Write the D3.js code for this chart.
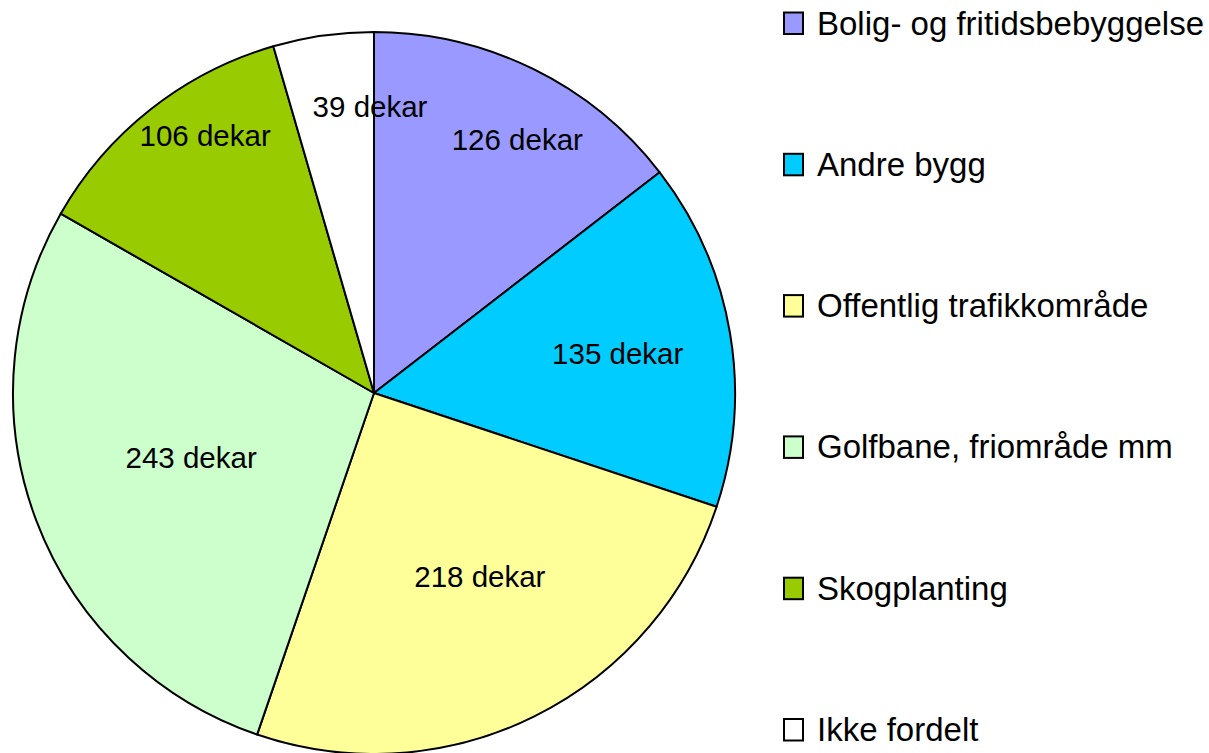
<!DOCTYPE html>
<html>
<head>
<meta charset="utf-8">
<script src="https://cdn.jsdelivr.net/npm/d3@7"></script>
<style>
  html, body { margin: 0; padding: 0; background: #fff; }
  svg { display: block; font-family: "Liberation Sans", Arial, sans-serif; }
</style>
</head>
<body>
<svg id="chart" width="1209" height="753"></svg>
<script>
// data
const categories = ["Bolig- og fritidsbebyggelse", "Andre bygg", "Offentlig trafikkområde",
  "Golfbane, friområde mm", "Skogplanting", "Ikke fordelt"];
const values = [126, 135, 218, 243, 106, 39];
const colors = ["#9999FF", "#00CCFF", "#FFFF99", "#CCFFCC", "#99CC00", "#FFFFFF"];

// label placement (fraction of radius, angle nudge in degrees)
const labelRadius = [0.807, 0.684, 0.587, 0.537, 0.852, 0.792];
const labelNudge = [3.3, 0.4, -3.6, 1.3, 4.9, 7.3];

const svg = d3.select("#chart");
const cx = 374, cy = 393, R = 361;

const pie = d3.pie().sort(null).value(d => d)(values);
const arc = d3.arc().innerRadius(0).outerRadius(R);

const g = svg.append("g").attr("transform", `translate(${cx},${cy})`);

g.selectAll("path")
  .data(pie)
  .join("path")
  .attr("d", arc)
  .attr("fill", (d, i) => colors[i])
  .attr("stroke", "#000")
  .attr("stroke-width", 2)
  .attr("stroke-linejoin", "round");

g.selectAll("text.lbl")
  .data(pie)
  .join("text")
  .attr("class", "lbl")
  .attr("transform", (d, i) => {
    const a = (d.startAngle + d.endAngle) / 2 + labelNudge[i] * Math.PI / 180;
    const r = labelRadius[i] * R;
    return `translate(${r * Math.sin(a)},${-r * Math.cos(a)})`;
  })
  .attr("text-anchor", "middle")
  .attr("dy", "0.35em")
  .attr("font-size", "29.5px")
  .attr("fill", "#000")
  .text(d => d.data + " dekar");

// legend
const legend = svg.append("g").attr("transform", "translate(783,34.5)");
const rowGap = 141.3;

const rows = legend.selectAll("g")
  .data(categories)
  .join("g")
  .attr("transform", (d, i) => `translate(0,${i * rowGap})`);

rows.append("rect")
  .attr("x", 1)
  .attr("y", -22)
  .attr("width", 19)
  .attr("height", 21.5)
  .attr("fill", (d, i) => colors[i])
  .attr("stroke", "#000")
  .attr("stroke-width", 2);

rows.append("text")
  .attr("x", 34)
  .attr("y", 0)
  .attr("font-size", "33px")
  .attr("fill", "#000")
  .text(d => d);
</script>
</body>
</html>
